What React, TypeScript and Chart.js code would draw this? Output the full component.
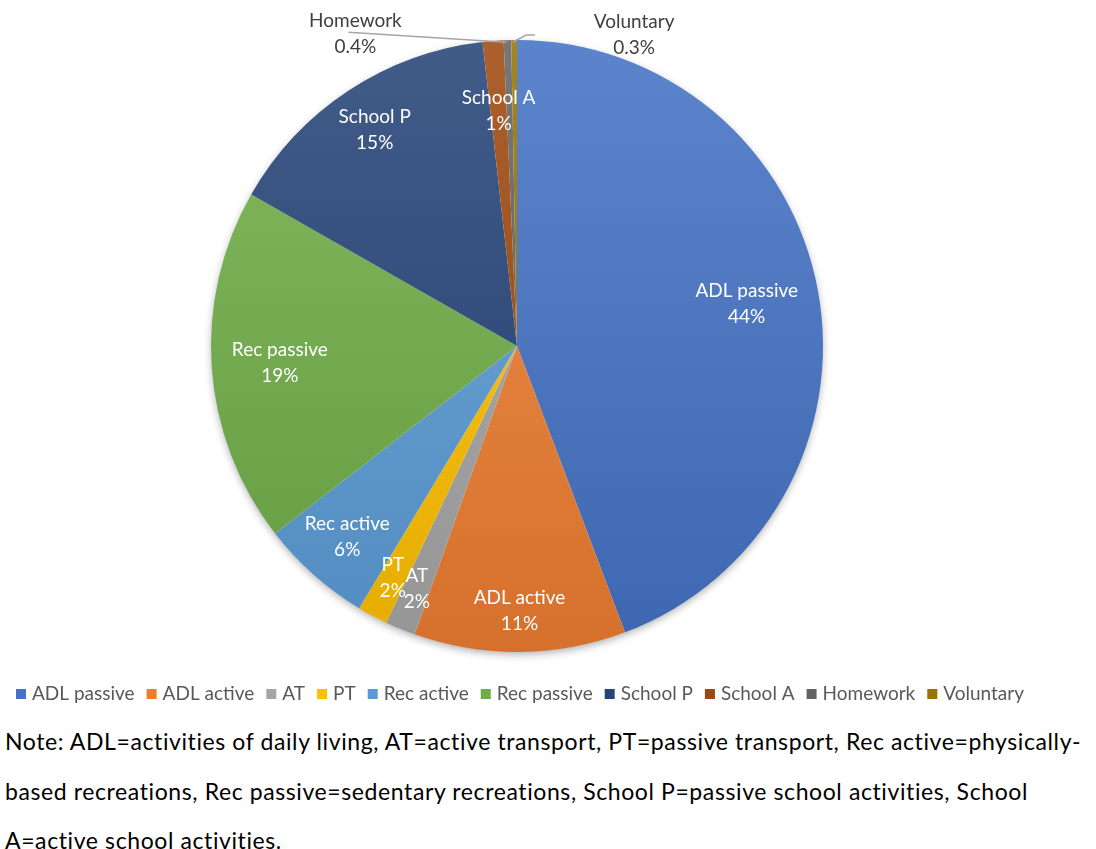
import React, { useEffect, useRef } from "react";
import { Chart, registerables } from "chart.js";

Chart.register(...registerables);

const categories = [
  "ADL passive",
  "ADL active",
  "AT",
  "PT",
  "Rec active",
  "Rec passive",
  "School P",
  "School A",
  "Homework",
  "Voluntary",
];
const shares = [44.4, 11.2, 1.6, 1.6, 5.9, 18.8, 15.0, 1.1, 0.4, 0.3];
const shareLabels = ["44%", "11%", "2%", "2%", "6%", "19%", "15%", "1%", "0.4%", "0.3%"];
const baseColors = [
  "#4472C4",
  "#ED7D31",
  "#A5A5A5",
  "#FFC000",
  "#5B9BD5",
  "#70AD47",
  "#264478",
  "#9E480E",
  "#636363",
  "#997300",
];
const noteLines = [
  "Note: ADL=activities of daily living, AT=active transport, PT=passive transport, Rec active=physically-",
  "based recreations, Rec passive=sedentary recreations, School P=passive school activities, School",
  "A=active school activities.",
];

// label layout (style): radial factor for inside labels
const insideLabelRadius = [0.763, 0.866, 0.858, 0.86, 0.835, 0.777, 0.845, 0.77, 0, 0];
// outside labels: offset from slice outer mid point, leader line points relative to same
const outsideLabels: Record<number, { dx: number; dy: number; line: number[][] }> = {
  8: { dx: -152, dy: -6, line: [[-159, -8], [-1, 2]] },
  9: { dx: 120, dy: -5, line: [[21, -5], [12, -5], [-1, 2]] },
};

const PIE_RADIUS = 306;

function mix(hex: string, target: number, t: number) {
  const n = parseInt(hex.slice(1), 16);
  const r = (n >> 16) & 255, g = (n >> 8) & 255, b = n & 255;
  const f = (c: number) => Math.round(c + (target - c) * t);
  return `rgb(${f(r)},${f(g)},${f(b)})`;
}

const shadowPlugin = {
  id: "pieShadow",
  beforeDatasetsDraw(chart: any) {
    const meta = chart.getDatasetMeta(0);
    const el = meta.data[0];
    if (!el) return;
    const ctx = chart.ctx;
    ctx.save();
    ctx.shadowColor = "rgba(0,0,0,0.35)";
    ctx.shadowBlur = 9;
    ctx.shadowOffsetY = 3;
    ctx.beginPath();
    ctx.arc(el.x, el.y, el.outerRadius - 1, 0, Math.PI * 2);
    ctx.fillStyle = "#ffffff";
    ctx.fill();
    ctx.restore();
  },
};

const labelPlugin = {
  id: "sliceLabels",
  afterDatasetsDraw(chart: any) {
    const meta = chart.getDatasetMeta(0);
    const ctx = chart.ctx;
    ctx.save();
    ctx.font = "19px Lato";
    ctx.textAlign = "center";
    ctx.textBaseline = "middle";
    meta.data.forEach((el: any, i: number) => {
      const mid = (el.startAngle + el.endAngle) / 2;
      if (outsideLabels[i]) {
        const o = outsideLabels[i];
        const ax = el.x + Math.cos(mid) * el.outerRadius;
        const ay = el.y + Math.sin(mid) * el.outerRadius;
        ctx.strokeStyle = "#a6a6a6";
        ctx.lineWidth = 1.5;
        ctx.beginPath();
        o.line.forEach((p, k) => {
          if (k === 0) ctx.moveTo(ax + p[0], ay + p[1]);
          else ctx.lineTo(ax + p[0], ay + p[1]);
        });
        ctx.stroke();
        ctx.fillStyle = "#404040";
        ctx.fillText(categories[i], ax + o.dx, ay + o.dy - 13);
        ctx.fillText(shareLabels[i], ax + o.dx, ay + o.dy + 13);
      } else {
        const r = el.outerRadius * insideLabelRadius[i];
        const x = el.x + Math.cos(mid) * r;
        const y = el.y + Math.sin(mid) * r;
        ctx.fillStyle = "#ffffff";
        ctx.fillText(categories[i], x, y - 13);
        ctx.fillText(shareLabels[i], x, y + 13);
      }
    });
    ctx.restore();
  },
};

const LEGEND_CENTER_X = 520;
const LEGEND_Y = 694;

const legendPlugin = {
  id: "customLegend",
  afterDraw(chart: any) {
    const ctx = chart.ctx;
    ctx.save();
    ctx.font = "19px Lato";
    ctx.textBaseline = "middle";
    ctx.textAlign = "left";
    const box = 10, gapText = 6, gapItem = 12;
    const widths = categories.map((c) => box + gapText + ctx.measureText(c).width);
    const total = widths.reduce((a, b) => a + b, 0) + gapItem * (categories.length - 1);
    let x = LEGEND_CENTER_X - total / 2;
    categories.forEach((c, i) => {
      ctx.fillStyle = baseColors[i];
      ctx.fillRect(x, LEGEND_Y - box / 2, box, box);
      ctx.fillStyle = "#595959";
      ctx.fillText(c, x + box + gapText, LEGEND_Y);
      x += widths[i] + gapItem;
    });
    ctx.restore();
  },
};

export default function App() {
  const ref = useRef<HTMLCanvasElement>(null);
  useEffect(() => {
    if (!ref.current) return;
    const chart = new Chart(ref.current, {
      type: "pie",
      data: {
        labels: categories,
        datasets: [
          {
            data: shares,
            borderWidth: 0,
            radius: PIE_RADIUS,
            backgroundColor: (c: any) => {
              const i = c.dataIndex;
              const base = baseColors[i] || "#888";
              const area = c.chart.chartArea;
              if (!area) return base;
              const cy = (area.top + area.bottom) / 2;
              const g = c.chart.ctx.createLinearGradient(0, cy - PIE_RADIUS, 0, cy + PIE_RADIUS);
              g.addColorStop(0, mix(base, 255, 0.13));
              g.addColorStop(1, mix(base, 0, 0.1));
              return g;
            },
          } as any,
        ],
      },
      options: {
        animation: false,
        responsive: false,
        maintainAspectRatio: false,
        layout: { padding: { top: 40, bottom: 61, left: 0, right: 6 } },
        plugins: {
          legend: { display: false },
          tooltip: { enabled: false },
        },
      },
      plugins: [shadowPlugin, labelPlugin, legendPlugin],
    });
    return () => chart.destroy();
  }, []);

  return (
    <div style={{ position: "absolute", left: 0, top: 0, width: 1096, height: 849, background: "#fff" }}>
      <canvas ref={ref} width={1040} height={713} style={{ position: "absolute", left: 0, top: 0, width: 1040, height: 713 }} />
      {noteLines.map((line, i) => (
        <div
          key={i}
          style={{
            position: "absolute",
            left: 5,
            top: 726 + i * 49.5,
            fontFamily: "Lato",
            fontSize: 23,
            letterSpacing: "0.6px",
            lineHeight: "30px",
            color: "#000",
            whiteSpace: "nowrap",
          }}
        >
          {line}
        </div>
      ))}
    </div>
  );
}
